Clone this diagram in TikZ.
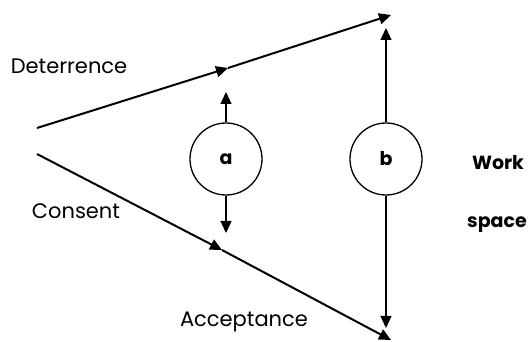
\documentclass[tikz,border=0pt]{standalone}
\usepackage{fontspec}
\setmainfont{Poppins}
\usetikzlibrary{arrows.meta}
\begin{document}
\begin{tikzpicture}[x=1pt,y=-1pt,
  tri/.style={-{Triangle[length=12pt,width=11pt]}},
  mainline/.style={line width=2pt},
  vline/.style={line width=1.3pt},
  circ/.style={circle,draw,line width=1.3pt,minimum size=72pt,inner sep=0pt,font=\fontsize{19}{22}\selectfont\bfseries},
  lbl/.style={inner sep=0pt,font=\fontsize{21}{24}\selectfont},
  blbl/.style={inner sep=0pt,font=\fontsize{19}{22}\selectfont\bfseries}]
\useasboundingbox (0,0) rectangle (531,342);
\coordinate (s1) at (37,128);
\coordinate (m1) at (228,68);
\coordinate (e1) at (391,15);
\coordinate (s2) at (37,154);
\coordinate (m2) at (222,250);
\coordinate (e2) at (391,340);
\draw[mainline,tri] (s1) -- (m1);
\draw[mainline,tri] (m1) -- (e1);
\draw[mainline,tri] (s2) -- (m2);
\draw[mainline,tri] (m2) -- (e2);
\node[circ] (a) at (226,159) {a};
\node[circ] (b) at (386,159) {b};
\coordinate (ta) at (226,92);
\coordinate (ba) at (226,233);
\coordinate (tb) at (386,28);
\coordinate (bb) at (386,328);
\draw[vline,tri] (a.north) -- (ta);
\draw[vline,tri] (a.south) -- (ba);
\draw[vline,tri] (b.north) -- (tb);
\draw[vline,tri] (b.south) -- (bb);
\node[lbl] (det) at (69,66) {Deterrence};
\node[lbl] (con) at (76,211) {Consent};
\node[lbl] (acc) at (244,322) {Acceptance};
\node[blbl] (work) at (498,163) {Work};
\node[blbl] (space) at (497,225) {space};
\end{tikzpicture}
\end{document}
